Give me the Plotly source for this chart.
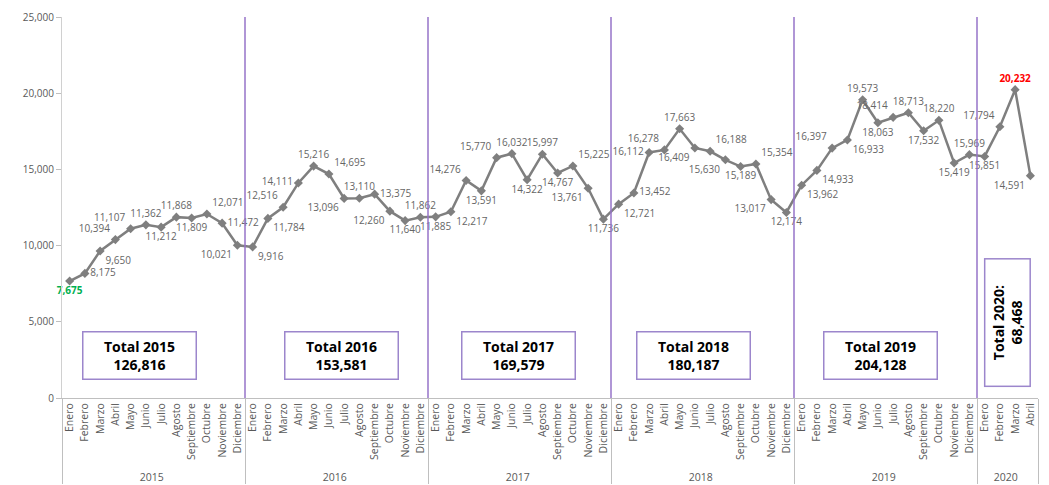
import plotly.graph_objects as go

years = ["2015", "2016", "2017", "2018", "2019", "2020"]
month_names = ["Enero", "Febrero", "Marzo", "Abril", "Mayo", "Junio", "Julio",
               "Agosto", "Septiembre", "Octubre", "Noviembre", "Diciembre"]

values_2015 = [7675, 8175, 9650, 10394, 11107, 11362, 11212, 11868, 11809, 12071, 11472, 10021]
values_2016 = [9916, 11784, 12516, 14111, 15216, 14695, 13096, 13110, 13375, 12260, 11640, 11862]
values_2017 = [11885, 12217, 14276, 13591, 15770, 16032, 14322, 15997, 14767, 15225, 13761, 11736]
values_2018 = [12721, 13452, 16112, 16278, 17663, 16409, 16188, 15630, 15189, 15354, 13017, 12174]
values_2019 = [13962, 14933, 16397, 16933, 19573, 18063, 18414, 18713, 17532, 18220, 15419, 15969]
values_2020 = [15851, 17794, 20232, 14591]

totals = [126816, 153581, 169579, 180187, 204128, 68468]

series = [values_2015, values_2016, values_2017, values_2018, values_2019, values_2020]

# label placement (style)
pos_2015 = ["bottom center", "middle right", "bottom right", "top left", "top left", "top center",
            "bottom center", "top center", "bottom center", "top right", "middle right", "bottom left"]
pos_2016 = ["bottom right", "bottom right", "top left", "middle left", "top center", "top right",
            "bottom left", "top center", "middle right", "bottom left", "bottom center", "top center"]
pos_2017 = ["bottom center", "bottom right", "top left", "bottom center", "top left", "top center",
            "bottom center", "top center", "bottom center", "top right", "bottom left", "bottom center"]
pos_2018 = ["bottom right", "middle right", "middle left", "top left", "top center", "bottom left",
            "top right", "bottom left", "bottom center", "top right", "bottom left", "bottom center"]
pos_2019 = ["bottom right", "bottom right", "top left", "bottom right", "top center", "bottom center",
            "top left", "top center", "bottom center", "top center", "bottom center", "top center"]
pos_2020 = ["bottom center", "top left", "top center", "bottom left"]
positions = pos_2015 + pos_2016 + pos_2017 + pos_2018 + pos_2019 + pos_2020

x_years, x_months, y_vals = [], [], []
for yr, vals in zip(years, series):
    for i, v in enumerate(vals):
        x_years.append(yr)
        x_months.append(month_names[i])
        y_vals.append(v)

n = len(y_vals)
min_idx = y_vals.index(min(y_vals))
max_idx = y_vals.index(max(y_vals))

texts, colors = [], []
for i, v in enumerate(y_vals):
    s = f"{v:,}"
    if i == min_idx:
        texts.append(f"<b>{s}</b>")
        colors.append("#00b050")
    elif i == max_idx:
        texts.append(f"<b>{s}</b>")
        colors.append("#ff0000")
    else:
        texts.append(s)
        colors.append("#666666")

fig = go.Figure()
fig.add_trace(go.Scatter(
    x=[x_years, x_months], y=y_vals,
    mode="lines+markers+text",
    line=dict(color="#7f7f7f", width=2.5),
    marker=dict(symbol="diamond", size=7, color="#7f7f7f"),
    text=texts, textposition=positions,
    textfont=dict(family="Open Sans", size=10, color=colors),
    cliponaxis=False, showlegend=False, hoverinfo="skip",
))

# year boundaries and total boxes
box_shift = [-14, 5, -1, -9, -5, 0]
start = 0
shapes, annotations = [], []
for k, (yr, vals) in enumerate(zip(years, series)):
    cnt = len(vals)
    end = start + cnt
    if k < len(years) - 1:
        xp = end / n
        shapes.append(dict(type="line", xref="paper", yref="paper", x0=xp, x1=xp, y0=0, y1=1,
                           line=dict(color="#9673c9", width=1.5)))
    mid = (start + end) / 2 / n
    if yr == "2020":
        annotations.append(dict(
            xref="paper", yref="y", x=mid, y=4950, xshift=box_shift[k],
            xanchor="center", yanchor="middle",
            text=f"<b>Total {yr}:<br>{totals[k]:,}</b>", textangle=-90,
            showarrow=False, font=dict(family="Open Sans", size=14, color="#000000"),
            bordercolor="#9c86cc", borderwidth=1.5, borderpad=3, bgcolor="white",
            width=120, height=38))
    else:
        annotations.append(dict(
            xref="paper", yref="y", x=mid, y=2820, xshift=box_shift[k],
            xanchor="center", yanchor="middle",
            text=f"<b>Total {yr}<br>{totals[k]:,}</b>",
            showarrow=False, font=dict(family="Open Sans", size=14, color="#000000"),
            bordercolor="#9c86cc", borderwidth=1.5, borderpad=3, bgcolor="white",
            width=106, height=40))
    start = end

# page body adds an 8px offset; size figure so plot area lands where the reference has it
fig.update_layout(
    width=1041, height=477,
    margin=dict(l=54, r=11, t=9, b=87),
    paper_bgcolor="white", plot_bgcolor="white",
    shapes=shapes, annotations=annotations,
    font=dict(family="Open Sans", color="#595959"),
)
fig.update_xaxes(
    type="multicategory", range=[-0.5, n - 0.5], autorange=False, automargin=False,
    tickangle=-90, tickfont=dict(size=10.5, color="#595959"),
    showline=True, linecolor="#bfbfbf", linewidth=1,
    showdividers=True, dividercolor="#bfbfbf", dividerwidth=1,
    showgrid=False, ticks="",
)
fig.update_yaxes(
    range=[0, 25000], dtick=5000, tickformat=",", showgrid=False, zeroline=False,
    automargin=False,
    showline=True, linecolor="#d0d0d0", linewidth=1,
    ticks="outside", ticklen=5, tickcolor="#bfbfbf",
    tickfont=dict(size=10, color="#595959"),
)

fig.write_html("out.html")
